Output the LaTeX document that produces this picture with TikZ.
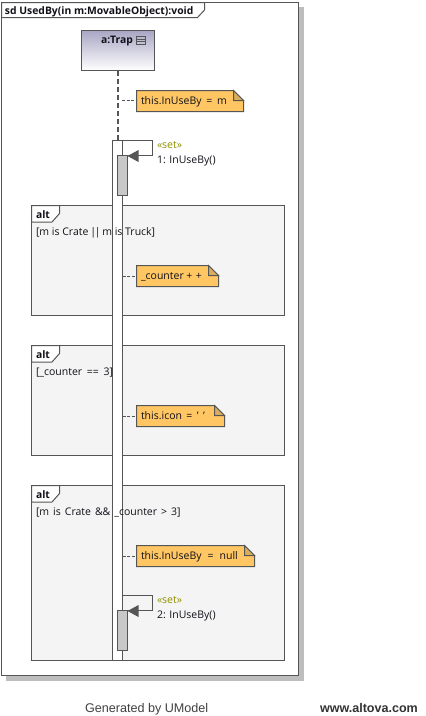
\documentclass[tikz,border=0pt]{standalone}
\usepackage{fontspec}
\setmainfont{Open Sans}
\newfontfamily\footfont{Liberation Sans}
\usetikzlibrary{fit}
\definecolor{ln}{HTML}{555555}
\definecolor{altfill}{HTML}{F4F4F4}
\definecolor{notefill}{HTML}{FFC663}
\definecolor{foldfill}{HTML}{D9AC5E}
\definecolor{execfill}{HTML}{C8C8C8}
\definecolor{shadowc}{HTML}{BDBDBD}
\definecolor{headtop}{HTML}{A9A6C4}
\definecolor{stereo}{HTML}{8F8F00}
\definecolor{txt}{HTML}{101018}
\tikzset{
  x=1pt,y=-1pt,
  line/.style={draw=ln,line width=1pt},
  boxnode/.style={inner sep=0pt,outer sep=0pt,anchor=north west,rectangle},
  execbox/.style={boxnode,line,fill=white},
  smallexec/.style={boxnode,line,fill=execfill},
  altbox/.style={boxnode,line,fill=altfill},
  lbl/.style={inner sep=0pt,outer sep=0pt,anchor=base west,font=\fontsize{10.5}{12}\selectfont,text=txt},
  boldlbl/.style={lbl,font=\fontsize{10.35}{12}\selectfont\bfseries},
  tip/.style={fill=ln,draw=none},
  link/.style={draw=ln,line width=1pt,dash pattern=on 3pt off 1.5pt},
  lifel/.style={draw=ln,line width=2pt,dash pattern=on 5pt off 3pt},
}
% name, x1, y1, x2, y2, text
\newcommand{\notebox}[6]{%
  \path[line,fill=notefill] (#2,#3) -- (#4-10,#3) -- (#4,#3+10) -- (#4,#5) -- (#2,#5) -- cycle;
  \path[line,fill=foldfill] (#4-10,#3) -- (#4,#3+10) -- (#4-10,#3+10) -- cycle;
  \coordinate (#1nw) at (#2,#3);
  \coordinate (#1se) at (#4,#5);
  \node[fit=(#1nw)(#1se),inner sep=0pt,outer sep=0pt] (#1) {};
  \node[lbl] (#1t) at (#2+4.5,#3+14) {#6};
}
% name, x1, y1, w, h, style
\newcommand{\boxat}[6]{\node[#6,minimum width=#4pt,minimum height=#5pt] (#1) at (#2,#3) {};}
% alt frame tab: y top
\newcommand{\alttab}[1]{%
  \path[line,fill=white] (31.5,#1) -- (59.5,#1) -- (59.5,#1+8) -- (52,#1+16.5) -- (31.5,#1+16.5) -- cycle;
}
\begin{document}
\begin{tikzpicture}
\useasboundingbox (0,0) rectangle (426,716);
\fill[white] (0,0) rectangle (426,716);
% frame and shadow
\fill[shadowc] (6,7) rectangle (303.5,681);
\path[line,fill=white] (1.5,2.5) rectangle (298.5,675.5);
\path[line,fill=white] (1.5,2.5) -- (204.5,2.5) -- (204.5,10) -- (197.5,17.5) -- (1.5,17.5) -- cycle;
% lifeline head
\node[boxnode,minimum width=73pt,minimum height=40pt,top color=headtop,bottom color=white,draw=ln,line width=1pt] (head) at (81.5,30.5) {};
\path[line] (136.5,36.5) rectangle (145.5,44.5) (136.5,39.2) -- (145.5,39.2) (136.5,41.8) -- (145.5,41.8);
% alt frames
\boxat{alta}{31.5}{205.5}{253}{110}{altbox}
\boxat{altb}{31.5}{345.5}{253}{110}{altbox}
\boxat{altc}{31.5}{485.5}{253}{175}{altbox}
\alttab{205.5}
\alttab{345.5}
\alttab{485.5}
% activation
\boxat{exec}{112.5}{140.5}{10}{520}{execbox}
\boxat{execa}{117.5}{155.5}{10}{40}{smallexec}
\boxat{execb}{117.5}{610.5}{10}{40}{smallexec}
% lifeline
\coordinate (lla) at ([xshift=-0.5pt]head.south);
\coordinate (llb) at ([xshift=-0.5pt]exec.north);
\draw[lifel] (lla) -- (lla |- llb);
% self messages
\coordinate (sa) at (exec.north east);
\coordinate (sb) at (122.5,595.5);
\path[line] (sa) -- ++(30,0) |- (execa.north east);
\path[line] (sb) -- ++(30,0) |- (execb.north east);
\fill[tip] (execa.north east) ++(0,0.5) -- ++(11,-6) -- ++(0,12) -- cycle;
\fill[tip] (execb.north east) ++(0,0.5) -- ++(11,-6) -- ++(0,12) -- cycle;
% notes
\notebox{na}{136.5}{90.5}{243.5}{111.5}{\spaceskip=4.7pt this.InUseBy = m}
\notebox{nb}{136.5}{265.5}{218.5}{286.5}{\_counter\hspace{2.5pt}+\hspace{3.5pt}+}
\notebox{nc}{136.5}{405.5}{224.5}{426.5}{\spaceskip=4.4pt this.icon = ' '}
\notebox{nd}{136.5}{545.5}{254.5}{566.5}{\spaceskip=6pt this.InUseBy = null}
\coordinate (ca) at (122,100.5);
\draw[link] (ca) -- (ca -| na.west);
\draw[link] (exec.east |- nb.west) -- (nb.west);
\draw[link] (exec.east |- nc.west) -- (nc.west);
\draw[link] (exec.east |- nd.west) -- (nd.west);
% text
\node[boldlbl] (title) at (5,14) {sd UsedBy(in m:MovableObject):void};
\node[boldlbl] (hl) at (101,43.5) {a:Trap};
\node[lbl,text=stereo] (s1) at (157,148) {«set»};
\node[lbl] (m1) at (157,163) {1: InUseBy()};
\node[lbl,text=stereo] (s2) at (157,603) {«set»};
\node[lbl] (m2) at (157,618) {2: InUseBy()};
\node[boldlbl] (ta) at (36,218) {alt};
\node[boldlbl] (tb) at (36,358) {alt};
\node[boldlbl] (tc) at (36,498) {alt};
\node[lbl] (ga) at (36,235) {[m is Crate\hspace{-0.8pt} |\hspace{-1.6pt}|\hspace{-0.8pt} m is Truck]};
\node[lbl] (gb) at (36,375) {\spaceskip=4.7pt [\_counter == 3]};
\node[lbl] (gc) at (36,515) {\spaceskip=4pt [m is Crate \&\& \_counter > 3]};
\node[lbl,font=\footfont\fontsize{12.6}{14}\selectfont,text=black!75] (f1) at (85,712) {Generated by UModel};
\node[lbl,font=\footfont\fontsize{12.55}{14}\selectfont\bfseries,text=black!80] (f2) at (320,712) {www.altova.com};
\end{tikzpicture}
\end{document}
